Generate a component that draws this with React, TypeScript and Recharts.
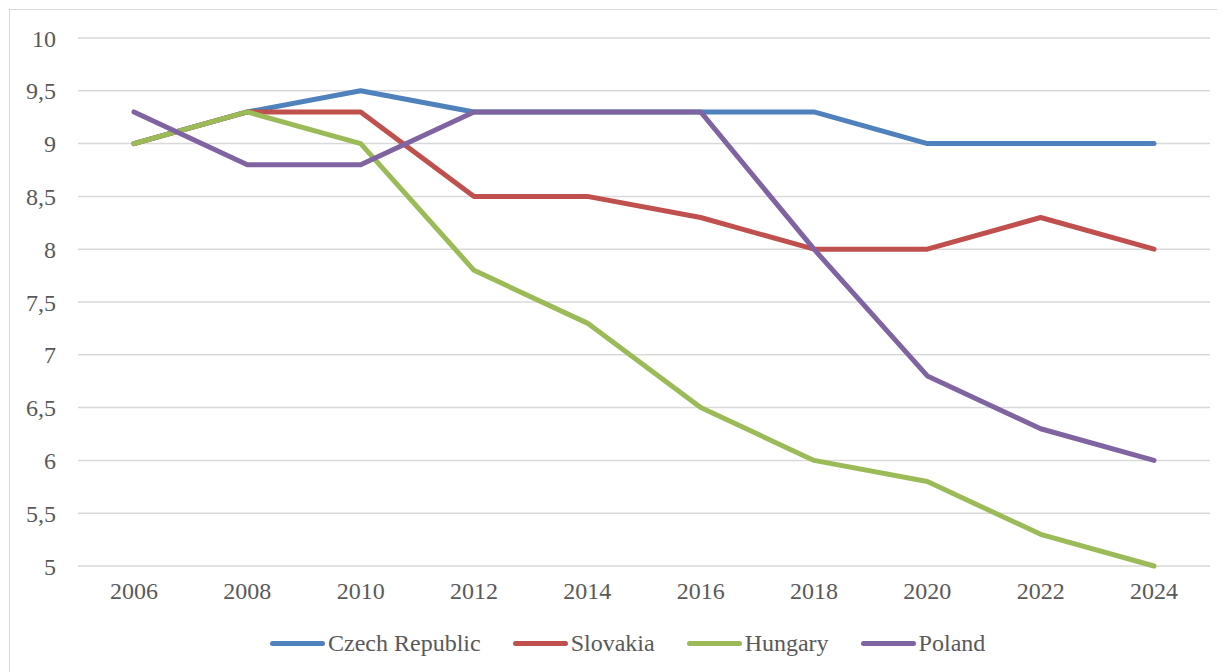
import { CartesianGrid, Line, LineChart, XAxis, YAxis } from "recharts";

const years = ["2006", "2008", "2010", "2012", "2014", "2016", "2018", "2020", "2022", "2024"];
const czech = [9, 9.3, 9.5, 9.3, 9.3, 9.3, 9.3, 9, 9, 9];
const slovakia = [9, 9.3, 9.3, 8.5, 8.5, 8.3, 8, 8, 8.3, 8];
const hungary = [9, 9.3, 9, 7.8, 7.3, 6.5, 6, 5.8, 5.3, 5];
const poland = [9.3, 8.8, 8.8, 9.3, 9.3, 9.3, 8, 6.8, 6.3, 6];
const yTicks = [5, 5.5, 6, 6.5, 7, 7.5, 8, 8.5, 9, 9.5, 10];

const series = [
  { key: "czech", name: "Czech Republic", color: "#4F81BD" },
  { key: "slovakia", name: "Slovakia", color: "#C0504D" },
  { key: "hungary", name: "Hungary", color: "#9BBB59" },
  { key: "poland", name: "Poland", color: "#8064A2" },
];

const data = years.map((year, i) => ({
  year,
  czech: czech[i],
  slovakia: slovakia[i],
  hungary: hungary[i],
  poland: poland[i],
}));

const font = "'Liberation Serif', 'Times New Roman', serif";
const tickStyle = { fill: "#595959", fontSize: 24, fontFamily: font };

export default function App() {
  return (
    <div
      style={{
        position: "relative",
        marginLeft: 1,
        marginTop: 1,
        width: 1211,
        height: 680,
        border: "1px solid #d9d9d9",
        background: "#fff",
      }}
    >
      <LineChart
        width={1211}
        height={663}
        data={data}
        margin={{ top: 28, right: 11, left: 0, bottom: 67 }}
      >
        <CartesianGrid stroke="#d9d9d9" strokeWidth={1.5} vertical={false} />
        <XAxis
          dataKey="year"
          axisLine={false}
          tickLine={false}
          tickSize={0}
          tickMargin={16}
          height={40}
          tick={tickStyle}
          interval={0}
          padding={{ left: 56, right: 56 }}
        />
        <YAxis
          domain={[5, 10]}
          ticks={yTicks}
          axisLine={false}
          tickLine={false}
          tickSize={0}
          tickMargin={22}
          width={68}
          tick={tickStyle}
          tickFormatter={(v: number) => String(v).replace(".", ",")}
        />
        {series.map((s) => (
          <Line
            key={s.key}
            dataKey={s.key}
            name={s.name}
            stroke={s.color}
            strokeWidth={5}
            strokeLinecap="round"
            strokeLinejoin="round"
            dot={false}
            activeDot={false}
            isAnimationActive={false}
          />
        ))}
      </LineChart>
      <div
        style={{
          position: "absolute",
          left: 260,
          top: 620,
          display: "flex",
          gap: 32,
          fontFamily: font,
          fontSize: 24,
          color: "#595959",
          alignItems: "center",
        }}
      >
        {series.map((s) => (
          <div key={s.key} style={{ display: "flex", alignItems: "center", gap: 3 }}>
            <span
              style={{
                display: "inline-block",
                width: 55,
                height: 5,
                borderRadius: 3,
                background: s.color,
              }}
            />
            <span>{s.name}</span>
          </div>
        ))}
      </div>
    </div>
  );
}
